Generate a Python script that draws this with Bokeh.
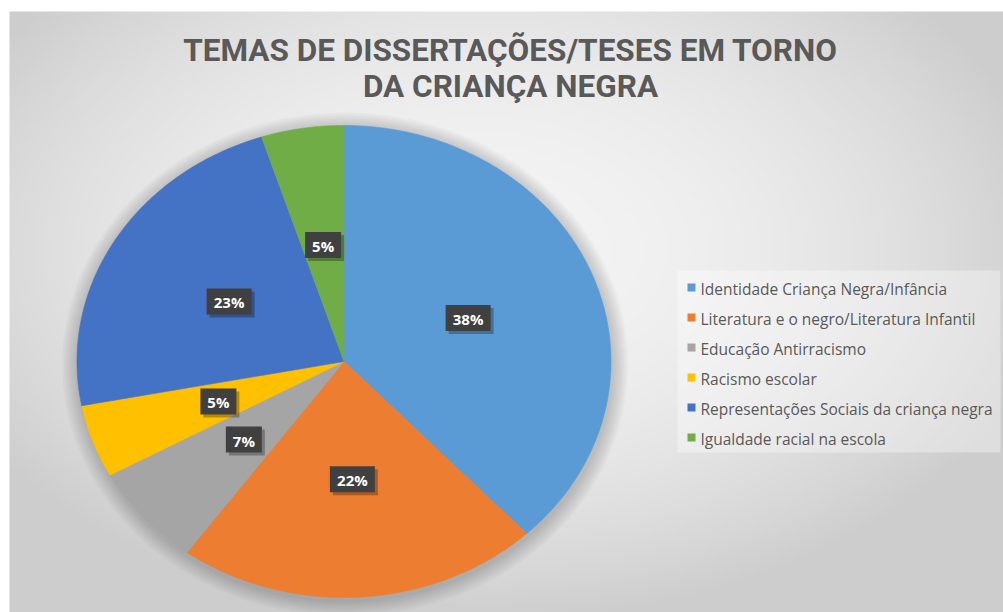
import numpy as np
from bokeh.plotting import figure
from bokeh.models import Range1d
from bokeh.core.properties import value
from bokeh.embed import file_html
from bokeh.resources import INLINE

# ---------------- data ----------------
title_lines = ["TEMAS DE DISSERTAÇÕES/TESES EM TORNO", "DA CRIANÇA NEGRA"]
categories = [
    "Identidade Criança Negra/Infância",
    "Literatura e o negro/Literatura Infantil",
    "Educação Antirracismo",
    "Racismo escolar",
    "Representações Sociais da criança negra",
    "Igualdade racial na escola",
]
values = [38, 22, 7, 5, 23, 5]
colors = ["#5B9BD5", "#ED7D31", "#A5A5A5", "#FFC000", "#4472C4", "#70AD47"]

# ---------------- layout (pixels) ----------------
W, H = 1003, 612
CX, CY, RX, RY = 343.5, 361.0, 267.0, 236.0
PANEL_X0, PANEL_Y0 = 9, 11

p = figure(width=W, height=H, x_range=Range1d(0, W), y_range=Range1d(H, 0),
           output_backend="svg", toolbar_location=None, min_border=0,
           x_axis_location=None, y_axis_location=None,
           background_fill_color="white", border_fill_color="white")
p.grid.visible = False
p.outline_line_color = None

# background radial gradient panel
ny, nx = 200, 330
yy, xx = np.mgrid[0:ny, 0:nx]
px = PANEL_X0 + (xx + 0.5) / nx * (W - PANEL_X0)
py = PANEL_Y0 + (yy + 0.5) / ny * (H - PANEL_Y0)
d = np.sqrt(((px - 480) / 560) ** 2 + ((py - 250) / 360) ** 2)
v = np.clip(244 - 36 * d ** 2, 205, 255).astype(np.uint8)
img = np.empty((ny, nx), dtype=np.uint32)
view = img.view(dtype=np.uint8).reshape((ny, nx, 4))
view[..., 0] = v
view[..., 1] = v
view[..., 2] = v
view[..., 3] = 255
p.image_rgba(image=[img], x=PANEL_X0, y=PANEL_Y0, dw=W - PANEL_X0, dh=H - PANEL_Y0)

# soft shadow around the pie
tt = np.linspace(0, 2 * np.pi, 240)
for k in range(8):
    g = 2 + k * 2.0
    p.patch(CX + 1 + (RX + g) * np.sin(tt), CY + 3 + (RY + g) * np.cos(tt),
            fill_color="black", fill_alpha=0.025, line_color=None)

# pie slices
frac = np.array(values, dtype=float) / sum(values)
ends = np.cumsum(frac)
starts = ends - frac
xs, ys = [], []
for s, e in zip(starts, ends):
    t = np.linspace(s, e, max(int((e - s) * 500), 6)) * 2 * np.pi
    xs.append([CX] + list(CX + RX * np.sin(t)) + [CX])
    ys.append([CY] + list(CY - RY * np.cos(t)) + [CY])
p.patches(xs, ys, fill_color=colors, line_color=colors, line_width=0.6)

# data labels
mids = (starts + ends) / 2 * 2 * np.pi
lx = CX + 0.5 * RX * np.sin(mids)
ly = CY - 0.5 * RY * np.cos(mids)
pct = [f"{round(f * 100)}%" for f in frac]
bw = [18 + 9 * len(s) for s in pct]
p.rect(lx + 3, ly + 3, width=bw, height=26, fill_color="black", fill_alpha=0.28, line_color=None)
p.rect(lx, ly, width=bw, height=26, fill_color="#404040", line_color=None)
p.text(lx, ly + 1, text=pct, text_color="white", text_font=value("Open Sans"),
       text_font_style="bold", text_font_size="15px", text_align="center",
       text_baseline="middle")

# title
p.text([510, 510], [50, 86], text=title_lines, text_color="#595959",
       text_font=value("Roboto"), text_font_style="bold",
       text_font_size="31.5px", text_align="center", text_baseline="middle")

# legend
LX0, LY0, LX1, LY1 = 677, 270, 1000, 452
p.quad(left=LX0, right=LX1, top=LY0, bottom=LY1, fill_color="white", fill_alpha=0.35,
       line_color=None)
item_y = LY0 + 17 + 30 * np.arange(len(categories))
p.rect([691] * len(categories), item_y, width=8, height=8, fill_color=colors, line_color=None)
p.text([700] * len(categories), item_y + 1, text=categories, text_color="#595959",
       text_font=value("Open Sans"), text_font_size="15.5px", text_baseline="middle")

open("out.html", "w").write(file_html(p, INLINE))
